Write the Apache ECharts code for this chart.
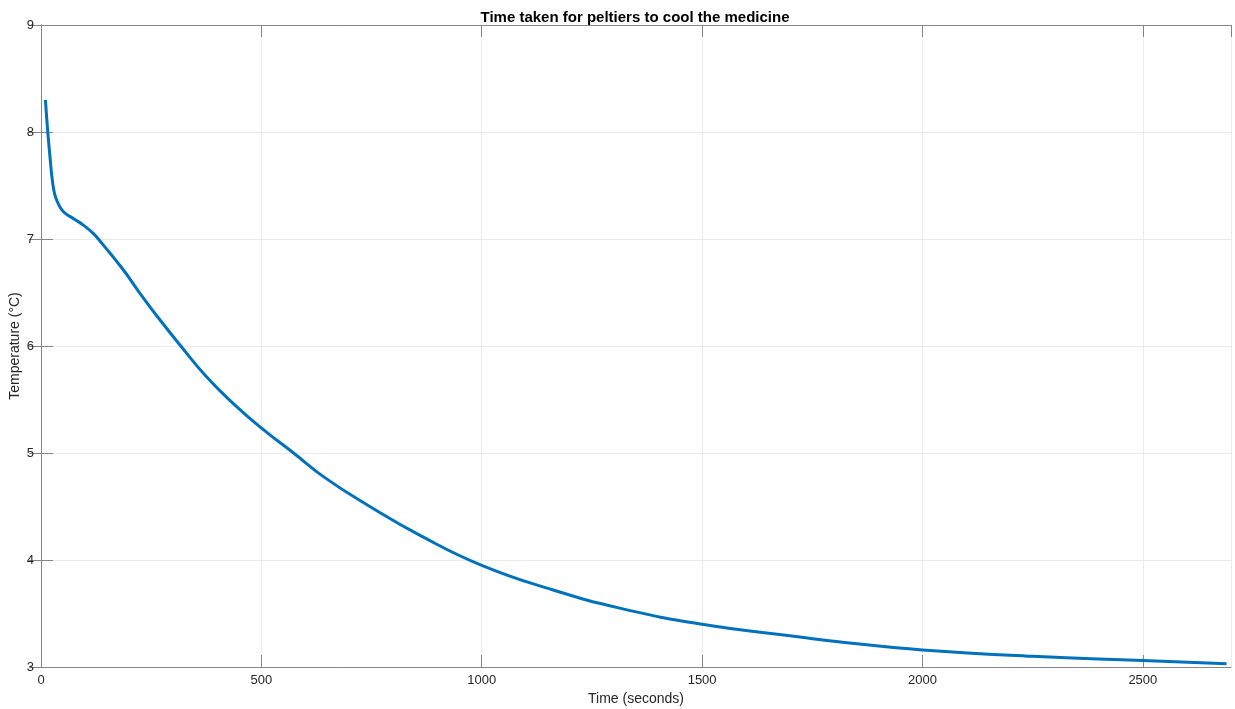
<!DOCTYPE html>
<html>
<head>
<meta charset="utf-8">
<script src="https://cdn.jsdelivr.net/npm/echarts@6/dist/echarts.min.js"></script>
<style>
  html, body { margin: 0; padding: 0; background: #fff; }
  #chart { width: 1235px; height: 709px; }
</style>
</head>
<body>
<div id="chart"></div>
<script>
// 读图得到的时间（秒）与温度（°C）
var timeSec = [10, 15, 21, 26, 31, 38, 51, 74, 96, 119, 142, 187, 225, 263, 319, 376, 437, 501, 573, 644, 746, 860, 1000, 1162, 1313, 1500, 1722, 1834, 2000, 2250, 2500, 2690];
var tempC = [8.30, 8.02, 7.74, 7.54, 7.42, 7.34, 7.255, 7.19, 7.13, 7.05, 6.94, 6.71, 6.49, 6.28, 5.99, 5.71, 5.46, 5.23, 5.00, 4.77, 4.50, 4.23, 3.95, 3.72, 3.55, 3.40, 3.28, 3.225, 3.16, 3.10, 3.06, 3.03];

var titleText = 'Time taken for peltiers to cool the medicine';
var xName = 'Time (seconds)';
var yName = 'Temperature (°C)';

var font = 'Liberation Sans, Arial, Helvetica, sans-serif';
var axisColor = '#868686';
var gridColor = '#ebebeb';

var points = timeSec.map(function (t, i) { return [t, tempC[i]]; });

// 上/右两条轴只画框和刻度，模仿 MATLAB 的 box on
function boxAxis(pos) {
    return {
        type: 'value',
        position: pos,
        min: pos === 'top' ? 0 : 3,
        max: pos === 'top' ? 2700 : 9,
        interval: pos === 'top' ? 500 : 1,
        axisLine: { show: true, lineStyle: { color: axisColor, width: 1 } },
        axisTick: { show: true, inside: true, length: 12, lineStyle: { color: axisColor } },
        axisLabel: { show: false },
        splitLine: { show: false }
    };
}

var chart = echarts.init(document.getElementById('chart'));
chart.setOption({
    animation: false,
    title: {
        text: titleText,
        left: 630,
        textAlign: 'center',
        top: 5,
        textStyle: { fontFamily: font, fontSize: 15, fontWeight: 'bold', color: '#000' }
    },
    grid: { left: 41, right: 4, top: 25, bottom: 42, containLabel: false, outerBoundsMode: 'none' },
    xAxis: [
        {
            type: 'value',
            position: 'bottom',
            min: 0,
            max: 2700,
            interval: 500,
            name: xName,
            nameLocation: 'middle',
            nameGap: 23,
            nameTextStyle: { fontFamily: font, fontSize: 14, color: '#262626' },
            axisLine: { show: true, onZero: false, lineStyle: { color: axisColor, width: 1 } },
            axisTick: { show: true, inside: true, length: 12, lineStyle: { color: axisColor } },
            axisLabel: {
                fontFamily: font, fontSize: 13, color: '#262626', margin: 7, showMaxLabel: false,
                formatter: function (v) { return String(v); }
            },
            splitLine: { show: true, lineStyle: { color: gridColor, width: 1 } }
        },
        boxAxis('top')
    ],
    yAxis: [
        {
            type: 'value',
            position: 'left',
            min: 3,
            max: 9,
            interval: 1,
            name: yName,
            nameLocation: 'middle',
            nameGap: 19,
            nameMoveOverlap: false,
            nameTextStyle: { fontFamily: font, fontSize: 14, color: '#262626' },
            axisLine: { show: true, onZero: false, lineStyle: { color: axisColor, width: 1 } },
            axisTick: { show: true, inside: true, length: 12, lineStyle: { color: axisColor } },
            axisLabel: { fontFamily: font, fontSize: 13, color: '#262626', margin: 7 },
            splitLine: { show: true, lineStyle: { color: gridColor, width: 1 } }
        },
        boxAxis('right')
    ],
    series: [
        {
            type: 'line',
            data: points,
            xAxisIndex: 0,
            yAxisIndex: 0,
            smooth: 0.5,
            symbol: 'none',
            lineStyle: { color: '#0072BD', width: 3 }
        }
    ]
});
</script>
</body>
</html>
